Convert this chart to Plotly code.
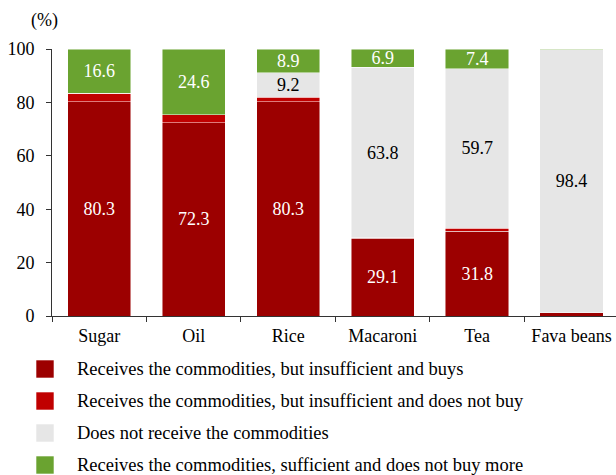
import plotly.graph_objects as go

# Data
categories = ["Sugar", "Oil", "Rice", "Macaroni", "Tea", "Fava beans"]
series_names = [
    "Receives the commodities, but insufficient and buys",
    "Receives the commodities, but insufficient and does not buy",
    "Does not receive the commodities",
    "Receives the commodities, sufficient and does not buy more",
]
insufficient_buys = [80.3, 72.3, 80.3, 29.1, 31.8, 1.3]
insufficient_no_buy = [3.1, 3.1, 1.6, 0.2, 1.1, 0.0]
not_receive = [0.0, 0.0, 9.2, 63.8, 59.7, 98.4]
sufficient = [16.6, 24.6, 8.9, 6.9, 7.4, 0.3]

# which values get a label inside the bar
min_label = 5

colors = ["#9C0000", "#C00000", "#E6E6E6", "#6AA330"]
label_colors = ["white", "white", "black", "white"]
font_family = "Liberation Serif, Times New Roman, serif"

# plot area in pixels (used to place the hand-made legend below the axis)
H, L, T, B = 475, 52, 49, 159
plot_w = 616 - L
plot_h = H - T - B

def px_x(x):
    return (x - L) / plot_w

def px_y(y):
    return (H - B - y) / plot_h

fig = go.Figure()

all_series = [insufficient_buys, insufficient_no_buy, not_receive, sufficient]
for i, vals in enumerate(all_series):
    labels = [f"{v:.1f}" if v >= min_label else "" for v in vals]
    fig.add_trace(go.Bar(
        x=categories,
        y=vals,
        name=series_names[i],
        marker=dict(color=colors[i], line=dict(color="rgba(255,255,255,0.6)", width=0.8)),
        text=labels,
        textposition="inside",
        insidetextanchor="middle",
        textfont=dict(color=label_colors[i], size=18, family=font_family),
        hoverinfo="skip",
        showlegend=False,
    ))

# legend drawn below the chart, one row every 32 px
for i, name in enumerate(series_names):
    cy = 369 + 32 * i
    fig.add_shape(
        type="rect", xref="paper", yref="paper",
        x0=px_x(36), x1=px_x(54), y0=px_y(cy + 9), y1=px_y(cy - 9),
        fillcolor=colors[i], line=dict(color="rgba(255,255,255,0.6)", width=1),
    )
    fig.add_annotation(
        text=name, xref="paper", yref="paper",
        x=px_x(75), y=px_y(cy), xanchor="left", yanchor="middle",
        showarrow=False,
        font=dict(size=18.5, family=font_family, color="black"),
    )

fig.add_annotation(
    text="(%)", xref="paper", yref="paper",
    x=px_x(44), y=px_y(21), xanchor="center", yanchor="middle",
    showarrow=False,
    font=dict(size=18, family=font_family, color="black"),
)

fig.update_layout(
    width=616, height=H,
    barmode="stack",
    bargap=0.33,
    margin=dict(l=L, r=0, t=T, b=B),
    plot_bgcolor="white",
    paper_bgcolor="white",
    font=dict(family=font_family, size=18, color="black"),
    uniformtext=dict(minsize=18, mode="show"),
    showlegend=False,
)

fig.update_xaxes(
    range=[-0.5, 5.47],
    showline=True, linecolor="#333333", linewidth=1,
    ticks="outside", tickson="boundaries", ticklen=5, tickcolor="#333333",
    ticklabelstandoff=3,
    showgrid=False,
)
fig.update_yaxes(
    range=[0, 100],
    tickvals=[0, 20, 40, 60, 80, 100],
    showline=True, linecolor="#333333", linewidth=1,
    ticks="outside", ticklen=5, tickcolor="#333333",
    ticklabelstandoff=8,
    showgrid=False, zeroline=False,
)

fig.write_html(
    "out.html",
    config={"displayModeBar": False},
    post_script="document.body.style.margin='0';document.body.style.overflow='hidden';",
)
